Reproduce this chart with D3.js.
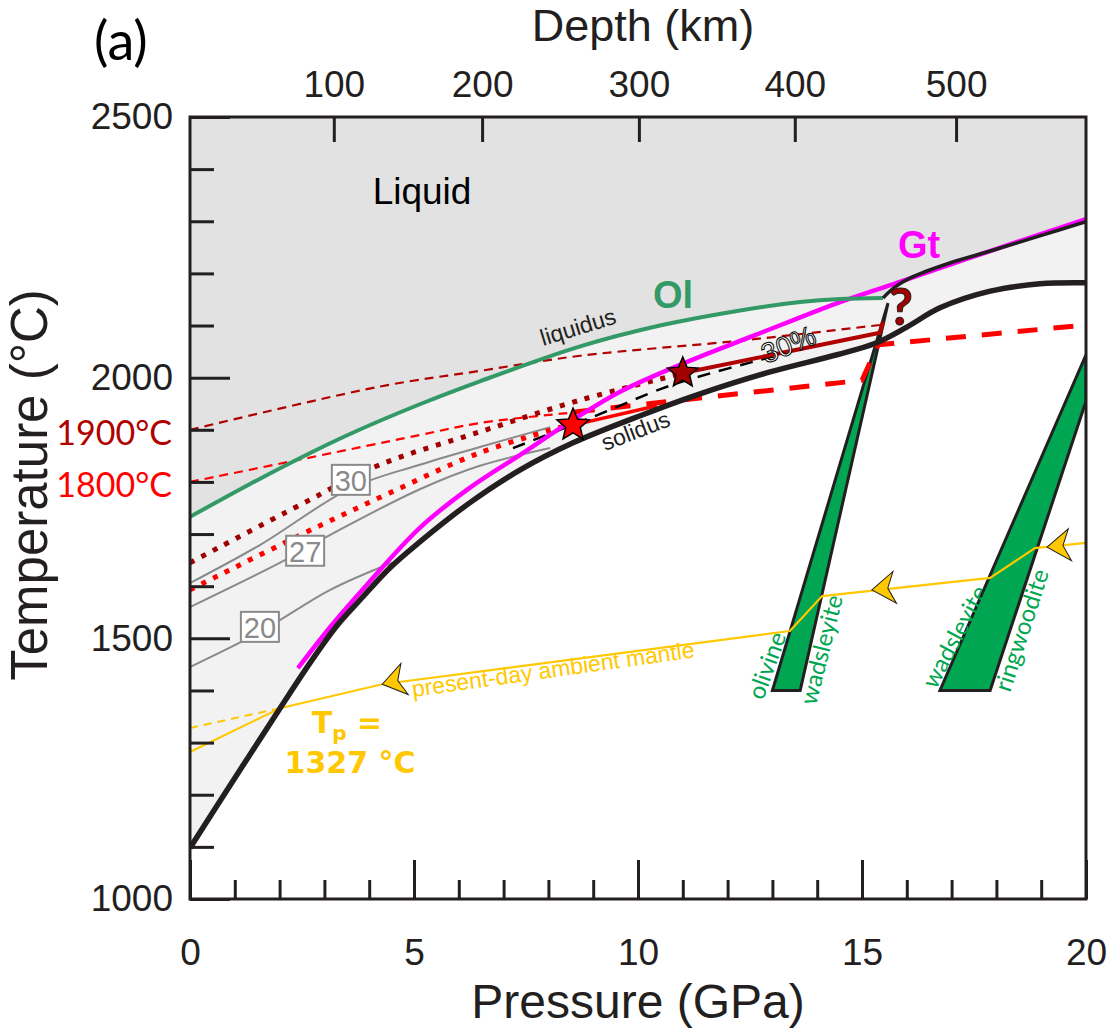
<!DOCTYPE html>
<html>
<head>
<meta charset="utf-8">
<script src="https://cdn.jsdelivr.net/npm/d3@7"></script>
<style>
body { margin: 0; background: #fff; }
</style>
</head>
<body>
<div id="chart"></div>
<script>
// values, [pressure (GPa), temperature (°C)]
var solidus = [[0,1098],[1.03,1236],[2.01,1366],[2.68,1453],[3.24,1520],[3.80,1574],[4.46,1635],[5.13,1685],[6.18,1756],[7.37,1823],[8.55,1875],[10.05,1927],[11.32,1967],[12.95,2011],[14.44,2044],[15.3,2066],[16.0,2097],[16.74,2134],[17.86,2166],[18.97,2180],[20,2182]];
var liquidusHP = [[15.47,2153],[15.74,2174],[16.07,2191],[16.96,2220],[17.79,2241],[18.97,2272],[20,2299]];
var olLiquidus = [[0,1733],[1.34,1796],[2.46,1846],[3.57,1892],[5.13,1949],[6.47,1993],[8.71,2060],[10.49,2100],[12.28,2129],[13.62,2145],[14.51,2151],[15.47,2153]];
var gtLiquidus = [[2.41,1443],[3.19,1528],[3.95,1603],[5.13,1712],[6.25,1789],[7.37,1852],[8.55,1919],[9.60,1973],[11.09,2030],[12.57,2080],[14.51,2145],[15.78,2182],[17.79,2241],[20,2304]];

var adiabat1900 = [[0,1900],[4.24,1983],[6.47,2013],[8.71,2042],[12.28,2071],[15.40,2101]];
var adiabat1800 = [[0,1800],[2.46,1843],[5.13,1890],[6.47,1913],[8.42,1932]];
var dotted1900 = [[0,1645],[2.46,1756],[4.24,1833],[6.47,1896],[8.71,1957],[10.94,2007]];
var dotted1800 = [[0,1593],[2.46,1698],[4.46,1779],[6.47,1856],[8.44,1909]];
var solidRed = [[8.55,1909],[10.42,1946]];
var dashedRed = [[8.59,1934],[11.38,1961],[15.0,1995],[15.36,2063],[20,2101]];
var solidDarkRed = [[11.0,2009],[15.4,2086],[15.47,2107]];
var dashedBlack = [[7.21,1865],[9.0,1925],[10.56,1980],[11.32,2001],[12.72,2034],[13.39,2049]];

var iso30 = [[0,1606],[1.56,1679],[3.59,1788],[5.13,1833],[6.47,1867],[8.04,1905]];
var iso27 = [[0,1560],[2.12,1650],[3.01,1693],[5.13,1786],[6.47,1831],[8.04,1865]];
var iso20 = [[0,1445],[1.56,1512],[3.13,1593],[4.51,1645]];
var isoLabels = ["30", "27", "20"];
var isoLabelPos = [[3.59,1804],[2.57,1668],[1.56,1522]];

var ambient = [[0,1282],[2.01,1366],[4.29,1412],[13.39,1514],[14.11,1581],[17.86,1616],[18.86,1673],[20,1683]];
var ambientExtrap = [[0,1328],[2.01,1366]];
var arrowPos = [[4.29,1412],[15.22,1593],[19.13,1675]];

var band1 = [[13.0,1400],[13.62,1400],[15.58,2143]];
var band2 = [[16.74,1400],[17.86,1400],[20,1955],[20,2044]];

var starRed = [8.55,1909];
var starDark = [11.0,2009];

var tempMajor = [1000,1500,2000,2500];
var tempMinor = d3.range(1100,2500,100).filter(function(t){ return t % 500 != 0; });
var presMajor = [0,5,10,15,20];
var presMinor = d3.range(1,20).filter(function(p){ return p % 5 != 0; });
var depthKm = [100,200,300,400,500];
var depthGPa = [3.21,6.52,10.02,13.5,17.1];

var W = 1111, H = 1029;
var x = d3.scaleLinear().domain([0,20]).range([190,1086]);
var y = d3.scaleLinear().domain([1000,2500]).range([899,117]);
var depth = d3.scaleLinear().domain(depthKm).range(depthGPa.map(function(p){ return x(p); }));

var svg = d3.select("#chart").append("svg").attr("width", W).attr("height", H)
    .style("font-family", "'Liberation Sans', Arial, sans-serif");

var line = d3.line().x(function(d){ return x(d[0]); }).y(function(d){ return y(d[1]); }).curve(d3.curveCatmullRom.alpha(0.5));
var lineLin = d3.line().x(function(d){ return x(d[0]); }).y(function(d){ return y(d[1]); });
var poly = d3.line().x(function(d){ return x(d[0]); }).y(function(d){ return y(d[1]); }).curve(d3.curveLinearClosed);

svg.append("clipPath").attr("id", "plotclip").append("rect")
    .attr("x", x(0)).attr("y", y(2500)).attr("width", x(20) - x(0)).attr("height", y(1000) - y(2500));
var g = svg.append("g").attr("clip-path", "url(#plotclip)");

// background regions
g.append("rect").attr("x", x(0)).attr("y", y(2500)).attr("width", x(20) - x(0)).attr("height", y(1000) - y(2500)).attr("fill", "#f2f2f2");
g.append("path").datum(solidus)
    .attr("d", d3.area().x(function(d){ return x(d[0]); }).y0(y(1000)).y1(function(d){ return y(d[1]); }).curve(d3.curveCatmullRom.alpha(0.5)))
    .attr("fill", "#fff");
var liqPath = line(olLiquidus) + "L" + line(liquidusHP).slice(1) + "L" + x(20) + "," + y(2500) + "L" + x(0) + "," + y(2500) + "Z";
g.append("path").attr("d", liqPath).attr("fill", "#e2e2e2");

// phase transition bands
[band1, band2].forEach(function(b){
    g.append("path").attr("d", poly(b)).attr("fill", "#00a651").attr("stroke", "#231f20").attr("stroke-width", 3);
});

function drawLine(data, color, width, dash, gen) {
    var p = g.append("path").attr("d", (gen || line)(data)).attr("fill", "none")
        .attr("stroke", color).attr("stroke-width", width);
    if (dash) p.attr("stroke-dasharray", dash);
    return p;
}

// isentropes
[iso30, iso27, iso20].forEach(function(d){ drawLine(d, "#8a8a8a", 2); });

// adiabats
drawLine(adiabat1900, "#b00000", 2.2, "9,6");
drawLine(adiabat1800, "#ff0000", 2.2, "9,6");
drawLine(dotted1900, "#a00000", 5, "5,8");
drawLine(dotted1800, "#ff0000", 5, "5,8");
drawLine(dashedRed, "#ff0000", 5, "20,16", lineLin);
drawLine(dashedBlack, "#000", 2.5, "13,9");
drawLine(solidRed, "#ff0000", 3.5, null, lineLin);
drawLine(solidDarkRed, "#b00000", 4, null, lineLin);

// present-day mantle adiabat
drawLine(ambientExtrap, "#ffc800", 2, "8,6", lineLin);
drawLine(ambient, "#ffc800", 2.2, null, lineLin);
arrowPos.forEach(function(a){
    var i = d3.bisector(function(d){ return d[0]; }).left(ambient, a[0]);
    i = Math.max(1, Math.min(ambient.length - 1, i));
    var p0 = ambient[i-1], p1 = ambient[i];
    var ang = Math.atan2(y(p1[1]) - y(p0[1]), x(p1[0]) - x(p0[0])) * 180 / Math.PI;
    g.append("path").attr("d", "M0,0L23,-16L16,0L23,16Z")
        .attr("transform", "translate(" + x(a[0]) + "," + y(a[1]) + ") rotate(" + ang + ")")
        .attr("fill", "#ffc800").attr("stroke", "#231f20").attr("stroke-width", 1);
});

// liquidus / solidus
drawLine(gtLiquidus, "#ff00ff", 4.5);
drawLine(olLiquidus, "#339966", 4);
drawLine(liquidusHP, "#231f20", 3.5);
drawLine(solidus, "#231f20", 5.5);

// stars
var star = d3.lineRadial()
    .angle(function(d, i){ return i * Math.PI / 5; })
    .radius(function(d){ return d; })
    .curve(d3.curveLinearClosed);
function drawStar(pt, r, color) {
    var radii = d3.range(10).map(function(i){ return i % 2 ? r * 0.45 : r; });
    g.append("path").attr("d", star(radii))
        .attr("transform", "translate(" + x(pt[0]) + "," + y(pt[1]) + ")")
        .attr("fill", color).attr("stroke", "#000").attr("stroke-width", 1.5);
}
drawStar(starRed, 17, "#ff0000");
drawStar(starDark, 16, "#a00000");

// isentrope labels
[iso30, iso27, iso20].forEach(function(d, i){
    var cx = x(isoLabelPos[i][0]), cy = y(isoLabelPos[i][1]);
    g.append("rect").attr("x", cx - 19).attr("y", cy - 15).attr("width", 38).attr("height", 30)
        .attr("fill", "#fff").attr("stroke", "#8a8a8a").attr("stroke-width", 2);
    g.append("text").attr("x", cx).attr("y", cy + 11).attr("text-anchor", "middle")
        .attr("font-size", 29).attr("fill", "#8a8a8a").text(isoLabels[i]);
});

// in-plot text
function label(txt, tx, ty, rot, opts) {
    var t = svg.append("text").attr("transform", "translate(" + tx + "," + ty + ")" + (rot ? " rotate(" + rot + ")" : ""))
        .text(txt);
    for (var k in opts) t.attr(k, opts[k]);
    return t;
}
label("Liquid", 422, 204, 0, {"font-size": 37, "text-anchor": "middle", fill: "#000"});
label("liquidus", 543, 346, -17, {"font-size": 23, fill: "#231f20"});
label("solidus", 605, 451, -21, {"font-size": 23, fill: "#231f20"});
label("30%", 766, 364, -22, {"font-size": 28, fill: "#fff", stroke: "#000", "stroke-width": 1});
label("Ol", 653, 308, 0, {"font-size": 38, "font-weight": "bold", fill: "#339966"});
label("Gt", 898, 258, 0, {"font-size": 38, "font-weight": "bold", fill: "#ff00ff"});
label("?", 901, 325, 0, {"font-size": 52, "font-weight": "bold", "text-anchor": "middle", fill: "#a00000", stroke: "#231f20", "stroke-width": 1, "font-family": "Lato"});
label("present-day ambient mantle", 413, 697, -8, {"font-size": 23, fill: "#ffc800"});

var tp = svg.append("text").attr("x", 347).attr("y", 733).attr("text-anchor", "middle")
    .attr("font-family", "'DejaVu Sans', Verdana, sans-serif").attr("font-weight", "bold")
    .attr("font-size", 30).attr("fill", "#ffc800");
tp.append("tspan").text("T");
tp.append("tspan").attr("font-size", 20).attr("dy", 7).text("p");
tp.append("tspan").attr("dy", -7).text(" =");
label("1327 °C", 350, 773, 0, {"font-size": 30, "font-weight": "bold", "text-anchor": "middle", fill: "#ffc800", "font-family": "'DejaVu Sans', Verdana, sans-serif"});

var greenFont = {"font-size": 24, fill: "#00a651", "font-family": "Lato, 'Open Sans', sans-serif"};
label("olivine", 763, 701, -70, greenFont);
label("wadsleyite", 816, 706, -76, greenFont);
label("wadsleyite", 936, 690, -62, greenFont);
label("ringwoodite", 1010, 693, -72, greenFont);

label("1900°C", 172, 445, 0, {"font-size": 34, "text-anchor": "end", fill: "#b00000", "font-family": "Lato, sans-serif"});
label("1800°C", 172, 497, 0, {"font-size": 34, "text-anchor": "end", fill: "#ff0000", "font-family": "Lato, sans-serif"});

// axes
function styleAxis(sel) {
    sel.select(".domain").remove();
    sel.selectAll(".tick line").attr("stroke", "#231f20").attr("stroke-width", 3);
    sel.selectAll(".tick text").attr("font-size", 37).attr("font-family", "'Liberation Sans', Arial, sans-serif").attr("fill", "#231f20");
}
var ax;
ax = svg.append("g").attr("transform", "translate(" + x(0) + ",0)")
    .call(d3.axisLeft(y).tickValues(tempMajor).tickSize(-40).tickPadding(17).tickFormat(d3.format("d")));
styleAxis(ax);
ax = svg.append("g").attr("transform", "translate(" + x(0) + ",0)")
    .call(d3.axisLeft(y).tickValues(tempMinor).tickSize(-24).tickFormat(""));
styleAxis(ax);
ax = svg.append("g").attr("transform", "translate(0," + y(1000) + ")")
    .call(d3.axisBottom(x).tickValues(presMajor).tickSize(-39).tickPadding(40).tickFormat(d3.format("d")));
styleAxis(ax);
ax = svg.append("g").attr("transform", "translate(0," + y(1000) + ")")
    .call(d3.axisBottom(x).tickValues(presMinor).tickSize(-19).tickFormat(""));
styleAxis(ax);
ax = svg.append("g").attr("transform", "translate(0," + y(2500) + ")")
    .call(d3.axisTop(depth).tickValues(depthKm).tickSize(-25).tickPadding(20).tickFormat(d3.format("d")));
styleAxis(ax);

// frame
svg.append("rect").attr("x", x(0)).attr("y", y(2500)).attr("width", x(20) - x(0)).attr("height", y(1000) - y(2500))
    .attr("fill", "none").attr("stroke", "#231f20").attr("stroke-width", 3);

// titles
label("Pressure (GPa)", 638, 1018, 0, {"font-size": 48, "text-anchor": "middle", fill: "#231f20"});
label("Depth (km)", 643, 41, 0, {"font-size": 45, "text-anchor": "middle", fill: "#231f20"});
label("Temperature (°C)", 47, 485, -90, {"font-size": 51, "text-anchor": "middle", fill: "#231f20"});
label("(a)", 94, 60, 0, {"font-size": 54, fill: "#000", "font-family": "Lato, sans-serif"});
</script>
</body>
</html>
